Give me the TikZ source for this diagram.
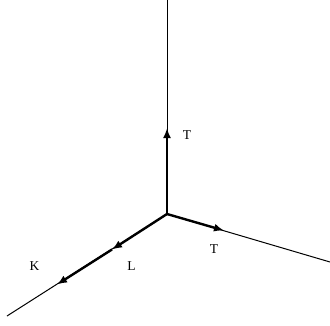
\documentclass[tikz,border=0pt]{standalone}
\usepackage{fontspec}
\setmainfont{Liberation Serif}
\usetikzlibrary{arrows.meta}
\begin{document}
\begin{tikzpicture}[x=1pt,y=-1pt,
  thin line/.style={line width=1pt},
  thick line/.style={line width=2.4pt},
  arr/.style={-{Latex[length=10pt,width=8pt]}},
  lbl/.style={font=\fontsize{13.5}{13.5}\selectfont, inner sep=0pt}]
\useasboundingbox (0,0) rectangle (330,325);
\coordinate (O) at (167,214);
\coordinate (top) at (167,0);
\coordinate (right) at (330,262);
\coordinate (left) at (7,316);
\coordinate (tv) at (167,128);
\coordinate (tr) at (224,230.5);
\coordinate (l1) at (112,249.5);
\coordinate (l2) at (57,284.5);
\draw[thin line] (O) -- (top);
\draw[thin line] (O) -- (right);
\draw[thin line] (O) -- (left);
\draw[thick line, arr] (O) -- (tv);
\draw[thick line, arr] (O) -- (tr);
\draw[thick line, arr] (O) -- (l1);
\draw[thick line, arr] (l1) -- (l2);
\node[lbl] (T1) at (187,135.5) {T};
\node[lbl] (T2) at (214,249) {T};
\node[lbl] (K) at (34.5,266) {K};
\node[lbl] (L) at (131.5,266) {L};
\end{tikzpicture}
\end{document}
